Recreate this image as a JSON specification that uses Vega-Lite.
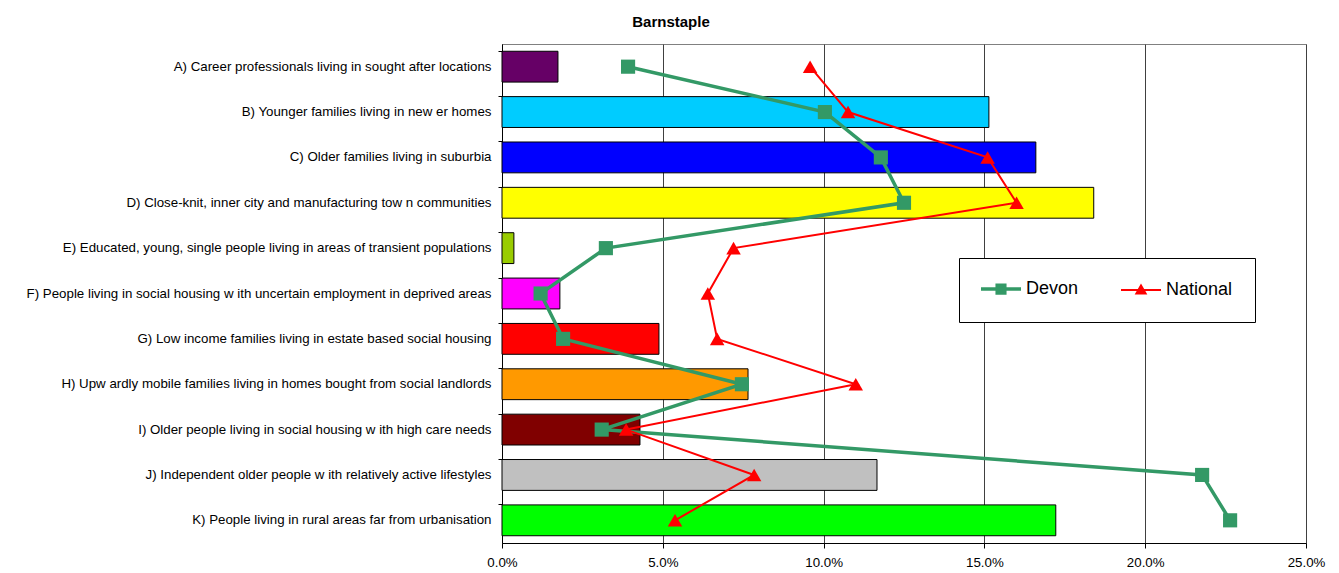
{
  "$schema": "https://vega.github.io/schema/vega-lite/v6.json",
  "width": 804,
  "height": 499,
  "padding": {"left": 26, "top": 15, "right": 5, "bottom": 5},
  "background": "white",
  "title": {"text": "Barnstaple", "font": "Liberation Sans", "fontSize": 15, "fontWeight": "bold", "color": "black", "anchor": "middle", "dx": -233, "offset": 14},
  "datasets": {
    "bars": [
      {"cat": "A) Career professionals living in sought after locations", "value": 0.0174},
      {"cat": "B) Younger families living in new er homes", "value": 0.1514},
      {"cat": "C) Older families living in suburbia", "value": 0.166},
      {"cat": "D) Close-knit, inner city and manufacturing tow n communities", "value": 0.184},
      {"cat": "E) Educated, young, single people living in areas of transient populations", "value": 0.0037},
      {"cat": "F) People living in social housing w ith uncertain employment in deprived areas", "value": 0.018},
      {"cat": "G) Low  income families living in estate based social housing", "value": 0.0488},
      {"cat": "H) Upw ardly mobile families living in homes bought from social landlords", "value": 0.0765},
      {"cat": "I) Older people living in social housing w ith high care needs", "value": 0.0429},
      {"cat": "J) Independent older people w ith relatively active lifestyles", "value": 0.1166},
      {"cat": "K) People living in rural areas far from urbanisation", "value": 0.1722}
    ],
    "lines": [
      {"series": "Devon", "cat": "A) Career professionals living in sought after locations", "value": 0.0392},
      {"series": "Devon", "cat": "B) Younger families living in new er homes", "value": 0.1004},
      {"series": "Devon", "cat": "C) Older families living in suburbia", "value": 0.1178},
      {"series": "Devon", "cat": "D) Close-knit, inner city and manufacturing tow n communities", "value": 0.125},
      {"series": "Devon", "cat": "E) Educated, young, single people living in areas of transient populations", "value": 0.0323},
      {"series": "Devon", "cat": "F) People living in social housing w ith uncertain employment in deprived areas", "value": 0.012},
      {"series": "Devon", "cat": "G) Low  income families living in estate based social housing", "value": 0.019},
      {"series": "Devon", "cat": "H) Upw ardly mobile families living in homes bought from social landlords", "value": 0.0746},
      {"series": "Devon", "cat": "I) Older people living in social housing w ith high care needs", "value": 0.031},
      {"series": "Devon", "cat": "J) Independent older people w ith relatively active lifestyles", "value": 0.2177},
      {"series": "Devon", "cat": "K) People living in rural areas far from urbanisation", "value": 0.2264},
      {"series": "National", "cat": "A) Career professionals living in sought after locations", "value": 0.0958},
      {"series": "National", "cat": "B) Younger families living in new er homes", "value": 0.1076},
      {"series": "National", "cat": "C) Older families living in suburbia", "value": 0.151},
      {"series": "National", "cat": "D) Close-knit, inner city and manufacturing tow n communities", "value": 0.16},
      {"series": "National", "cat": "E) Educated, young, single people living in areas of transient populations", "value": 0.072},
      {"series": "National", "cat": "F) People living in social housing w ith uncertain employment in deprived areas", "value": 0.064},
      {"series": "National", "cat": "G) Low  income families living in estate based social housing", "value": 0.0669},
      {"series": "National", "cat": "H) Upw ardly mobile families living in homes bought from social landlords", "value": 0.11},
      {"series": "National", "cat": "I) Older people living in social housing w ith high care needs", "value": 0.0386},
      {"series": "National", "cat": "J) Independent older people w ith relatively active lifestyles", "value": 0.0784},
      {"series": "National", "cat": "K) People living in rural areas far from urbanisation", "value": 0.0538}
    ]
  },
  "encoding": {
    "y": {
      "field": "cat", "type": "nominal", "title": null,
      "scale": {"paddingInner": 0.32, "paddingOuter": 0.16},
      "axis": {"labelFont": "Liberation Sans", "labelFontSize": 13.3, "labelColor": "black", "labelLimit": 0, "domainColor": "black", "tickColor": "black", "tickSize": 4, "labelPadding": 7, "bandPosition": 0, "grid": false}
    },
    "x": {
      "field": "value", "type": "quantitative", "title": null,
      "scale": {"domain": [0, 0.25], "nice": false, "zero": true},
      "axis": {"values": [0, 0.05, 0.1, 0.15, 0.2, 0.25], "format": ".1%", "labelFlush": false, "labelOverlap": false, "labelFont": "Liberation Sans", "labelFontSize": 13.3, "labelColor": "black", "domainColor": "black", "tickColor": "black", "tickSize": 5, "labelPadding": 7, "grid": true, "gridColor": "#404040", "gridWidth": 1, "gridOpacity": 1}
    }
  },
  "layer": [
    {
      "data": {"name": "bars"},
      "mark": {"type": "bar", "stroke": "black", "strokeWidth": 1},
      "encoding": {
        "fill": {
          "field": "cat", "type": "nominal", "legend": null,
          "scale": {"range": ["#660066", "#00CCFF", "#0000FF", "#FFFF00", "#99CC00", "#FF00FF", "#FF0000", "#FF9900", "#800000", "#C0C0C0", "#00FF00"]}
        }
      }
    },
    {
      "data": {"name": "lines"},
      "transform": [{"filter": "datum.series === 'Devon'"}],
      "mark": {"type": "line", "strokeWidth": 3.5, "strokeJoin": "miter"},
      "encoding": {
        "stroke": {
          "field": "series", "type": "nominal",
          "scale": {"domain": ["Devon", "National"], "range": ["#339966", "#FF0000"]},
          "legend": {
            "title": null, "orient": "none", "legendX": 457, "legendY": 214, "direction": "horizontal", "columns": 2,
            "columnPadding": 38, "padding": 22, "strokeColor": "black", "fillColor": "white",
            "labelFont": "Liberation Sans", "labelFontSize": 18, "labelColor": "black", "labelOffset": 27,
            "symbolSize": 1600,
            "encode": {
              "symbols": {
                "update": {
                  "x": {"value": 20},
                  "size": {"value": 1600},
                  "shape": {"signal": "datum.value === 'Devon' ? 'M-1,0H1M-0.19,-0.19H0.19V0.19H-0.19Z' : 'M-1,0H1M0,-0.22L0.23,0.18H-0.23Z'"},
                  "fill": {"signal": "datum.value === 'Devon' ? '#339966' : '#FF0000'"},
                  "stroke": {"signal": "datum.value === 'Devon' ? '#339966' : '#FF0000'"},
                  "strokeWidth": {"signal": "datum.value === 'Devon' ? 3.5 : 2"},
                  "opacity": {"value": 1},
                  "fillOpacity": {"value": 1}
                }
              }
            }
          }
        },
        "order": {"field": "cat", "type": "ordinal"}
      }
    },
    {
      "data": {"name": "lines"},
      "transform": [{"filter": "datum.series === 'Devon'"}],
      "mark": {"type": "point", "shape": "square", "filled": true, "opacity": 1, "size": 200, "color": "#339966"}
    },
    {
      "data": {"name": "lines"},
      "transform": [{"filter": "datum.series === 'National'"}],
      "mark": {"type": "line", "strokeWidth": 2, "strokeJoin": "miter"},
      "encoding": {
        "stroke": {"field": "series", "type": "nominal"},
        "order": {"field": "cat", "type": "ordinal"}
      }
    },
    {
      "data": {"name": "lines"},
      "transform": [{"filter": "datum.series === 'National'"}],
      "mark": {"type": "point", "shape": "triangle-up", "filled": true, "opacity": 1, "size": 210, "color": "#FF0000"}
    }
  ],
  "resolve": {"scale": {"fill": "independent"}},
  "config": {
    "view": {"stroke": "#808080", "strokeWidth": 1},
    "axis": {"labelFont": "Liberation Sans"}
  }
}
